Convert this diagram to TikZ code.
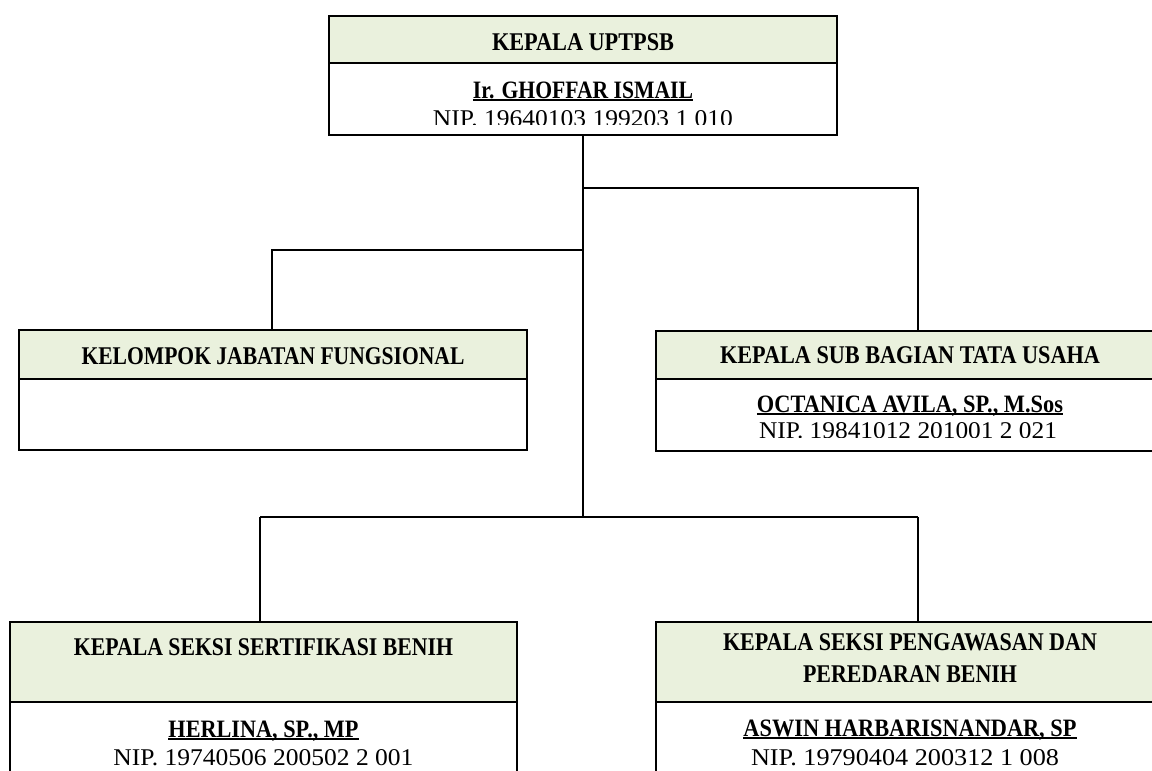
\documentclass[tikz,border=0pt]{standalone}
\usepackage{fontspec}
\setmainfont{Liberation Serif}
\usepackage{graphicx}
\definecolor{hdrgreen}{HTML}{EAF1DD}
\newcommand{\ulname}[1]{\vtop{\hbox{\raisebox{0pt}[\height][0pt]{#1}}\kern1.3pt\hrule height 1.5pt}}
\newcommand{\fitw}[2]{\resizebox{#1pt}{\height}{#2}}
\tikzset{
  hdr/.style={draw=black, fill=hdrgreen, line width=1.7pt, inner sep=0pt, outer sep=0pt, anchor=north west},
  bodybox/.style={draw=black, fill=white, line width=1.7pt, inner sep=0pt, outer sep=0pt, anchor=north west},
  conn/.style={draw=black, line width=1.9pt},
  htext/.style={anchor=base, inner sep=0pt, font=\fontsize{25.5}{30}\selectfont\bfseries},
  ntext/.style={anchor=base, inner sep=0pt, font=\fontsize{25}{30}\selectfont\bfseries},
  ptext/.style={anchor=base, inner sep=0pt, font=\fontsize{24}{29}\selectfont},
}
\begin{document}
\begin{tikzpicture}[x=1pt,y=-1pt]
\useasboundingbox (0,0) rectangle (1152,771);
\fill[white] (0,0) rectangle (1152,771);

% junction coordinates
\coordinate (jr) at (583,188);
\coordinate (rr) at (918,188);
\coordinate (jl) at (583,250);
\coordinate (ll) at (272,250);
\coordinate (jlow) at (583,517);
\coordinate (lowl) at (260,517);
\coordinate (lowr) at (918,517);

% boxes
\node[bodybox, minimum width=508pt, minimum height=72pt] (topbody) at (329,63) {};
\node[hdr, minimum width=508pt, minimum height=47pt] (tophdr) at (329,16) {};

\node[bodybox, minimum width=508pt, minimum height=71pt] (kjfbody) at (19,379) {};
\node[hdr, minimum width=508pt, minimum height=49pt] (kjfhdr) at (19,330) {};

\node[bodybox, minimum width=508pt, minimum height=72pt] (ksbbody) at (656,379) {};
\node[hdr, minimum width=508pt, minimum height=48pt] (ksbhdr) at (656,331) {};

\node[bodybox, minimum width=507pt, minimum height=100pt] (kssbody) at (10,702) {};
\node[hdr, minimum width=507pt, minimum height=80pt] (ksshdr) at (10,622) {};

\node[bodybox, minimum width=508pt, minimum height=100pt] (kspbody) at (656,702) {};
\node[hdr, minimum width=508pt, minimum height=80pt] (ksphdr) at (656,622) {};

% connectors
\draw[conn] (topbody.south) -- (jlow);
\draw[conn] (jr) -- (rr) -- (rr |- ksbhdr.north);
\draw[conn] (jl) -- (ll) -- (ll |- kjfhdr.north);
\draw[conn] (lowl) -- (lowr);
\draw[conn] (lowl) -- (lowl |- ksshdr.north);
\draw[conn] (lowr) -- (lowr |- ksphdr.north);

% top box texts
\node[htext] (t1) at (583,50) {\fitw{182}{KEPALA UPTPSB}};
\node[ntext] (t2) at (583,98) {\fitw{220}{\ulname{Ir. GHOFFAR ISMAIL}}};
\begin{scope}
  \clip (329,16) rectangle (837,124.5);
  \node[ptext] (t3) at (583,126) {\fitw{300}{NIP. 19640103 199203 1 010}};
\end{scope}

% kelompok jabatan fungsional
\node[htext] (k1) at (273,364) {\fitw{383}{KELOMPOK JABATAN FUNGSIONAL}};

% kepala sub bagian tata usaha
\node[htext] (s1) at (910,363) {\fitw{380}{KEPALA SUB BAGIAN TATA USAHA}};
\node[ntext] (s2) at (910,412) {\fitw{306}{\ulname{OCTANICA AVILA, SP., M.Sos}}};
\begin{scope}
  \clip (656,379) rectangle (1164,437);
  \node[ptext] (s3) at (908,438.5) {\fitw{298}{NIP. 19841012 201001 2 021}};
\end{scope}

% kepala seksi sertifikasi benih
\node[htext] (c1) at (263.5,655) {\fitw{379}{KEPALA SEKSI SERTIFIKASI BENIH}};
\node[ntext] (c2) at (263.5,737) {\fitw{190}{\ulname{HERLINA, SP., MP}}};
\node[ptext] (c3) at (263.5,765) {\fitw{300}{NIP. 19740506 200502 2 001}};

% kepala seksi pengawasan dan peredaran benih
\node[htext] (p1) at (910,650) {\fitw{374}{KEPALA SEKSI PENGAWASAN DAN}};
\node[htext] (p2) at (910,682) {\fitw{214}{PEREDARAN BENIH}};
\node[ntext] (p3) at (910,736) {\fitw{333}{\ulname{ASWIN HARBARISNANDAR, SP}}};
\node[ptext] (p4) at (905,765) {\fitw{308}{NIP. 19790404 200312 1 008}};
\end{tikzpicture}
\end{document}
